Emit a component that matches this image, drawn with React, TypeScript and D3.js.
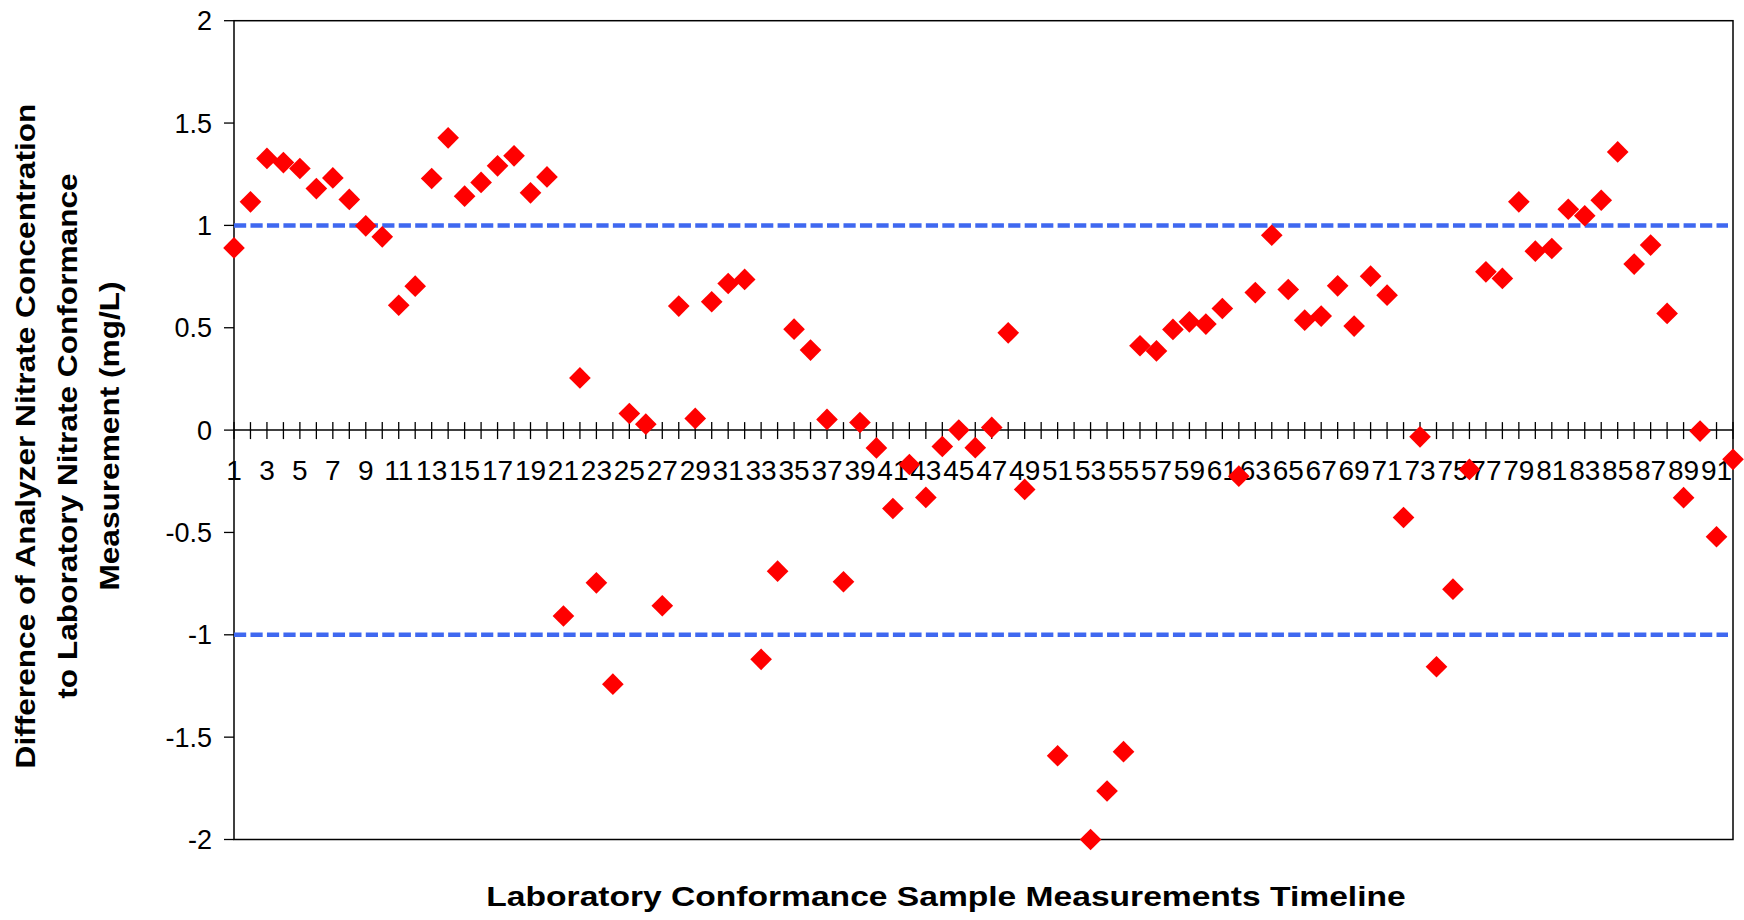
import * as React from "react";
import * as d3 from "d3";

// nitrate difference (analyzer - lab), mg/L; samples 50 and 52 fall off the chart
const differences: (number | null)[] = [
  0.89, 1.115, 1.327, 1.307, 1.278, 1.18, 1.232, 1.127, 0.998, 0.944,
  0.61, 0.703, 1.229, 1.428, 1.143, 1.21, 1.291, 1.34, 1.159, 1.237,
  -0.908, 0.255, -0.746, -1.241, 0.081, 0.029, -0.858, 0.606, 0.057, 0.627,
  0.716, 0.736, -1.12, -0.689, 0.493, 0.391, 0.052, -0.741, 0.037, -0.087,
  -0.383, -0.168, -0.329, -0.08, 0.0, -0.086, 0.013, 0.475, -0.29, null,
  -1.591, null, -2.0, -1.763, -1.571, 0.412, 0.387, 0.492, 0.529, 0.518,
  0.594, -0.225, 0.672, 0.952, 0.687, 0.537, 0.557, 0.705, 0.508, 0.752,
  0.659, -0.427, -0.033, -1.156, -0.777, -0.192, 0.773, 0.741, 1.115, 0.874,
  0.887, 1.079, 1.047, 1.123, 1.359, 0.811, 0.904, 0.57, -0.33, -0.005,
  -0.521, -0.143,
];
const samples = differences.map((_, i) => i + 1);
const yTicks = [-2, -1.5, -1, -0.5, 0, 0.5, 1, 1.5, 2];
const limits = [1, -1];
const yTitle = [
  "Difference of Analyzer Nitrate Concentration",
  "to Laboratory Nitrate Conformance",
  "Measurement (mg/L)",
];
const xTitle = "Laboratory Conformance Sample Measurements Timeline";

const W = 1744;
const H = 920;
const left = 234, right = 1733, top = 20.7, bottom = 839.5;
const font = "'Liberation Sans', Arial, sans-serif";

export default function App() {
  const x = d3.scaleLinear().domain([1, samples.length]).range([left, right]);
  const y = d3.scaleLinear().domain([-2, 2]).range([bottom, top]);
  const y0 = y(0);
  const diamond = d3.symbol(d3.symbolSquare, 235)()!;
  const step = x(2) - x(1);

  return (
    <svg width={W} height={H} style={{ position: "absolute", left: 0, top: 0, background: "#fff" }}>
      <rect x={left} y={top} width={right - left} height={bottom - top} fill="none" stroke="#000" strokeWidth={1.5} />

      {/* y axis ticks */}
      <g fontFamily={font} fontSize={27}>
        {yTicks.map((t) => (
          <g key={t}>
            <line x1={left - 10} x2={left} y1={y(t)} y2={y(t)} stroke="#000" strokeWidth={1.3} />
            <text x={212} y={y(t)} dy="0.35em" textAnchor="end">{String(t)}</text>
          </g>
        ))}
      </g>

      {/* limit lines */}
      {limits.map((l) => (
        <line key={l} x1={left} x2={right - 5} y1={y(l)} y2={y(l)} stroke="#3F68F0" strokeWidth={4.5}
          strokeDasharray={`${step * 0.74} ${step * 0.26}`} />
      ))}

      {/* category axis at zero */}
      <line x1={left} x2={right} y1={y0} y2={y0} stroke="#000" strokeWidth={1.5} />
      <g fontFamily={font} fontSize={28}>
        {samples.map((s) => (
          <g key={s}>
            <line x1={x(s)} x2={x(s)} y1={y0 - 8} y2={y0 + 9} stroke="#000" strokeWidth={1.3} />
            {s % 2 === 1 && <text x={x(s)} y={480} textAnchor="middle">{s}</text>}
          </g>
        ))}
      </g>

      {/* markers */}
      <g fill="#FF0000">
        {differences.map((d, i) =>
          d === null ? null : (
            <path key={i} d={diamond} transform={`translate(${x(samples[i])},${y(d)}) rotate(45)`} />
          )
        )}
      </g>

      {/* titles */}
      <g fontFamily={font} fontWeight="bold" fontSize={28} textAnchor="middle">
        {yTitle.map((t, i) => (
          <text key={i} transform={`translate(${25 + i * 42},436) rotate(-90) scale(1.13,1)`} dy="0.35em">{t}</text>
        ))}
      </g>
      <text transform="translate(946,906) scale(1.2,1)" fontFamily={font} fontWeight="bold" fontSize={28} textAnchor="middle">{xTitle}</text>
    </svg>
  );
}
